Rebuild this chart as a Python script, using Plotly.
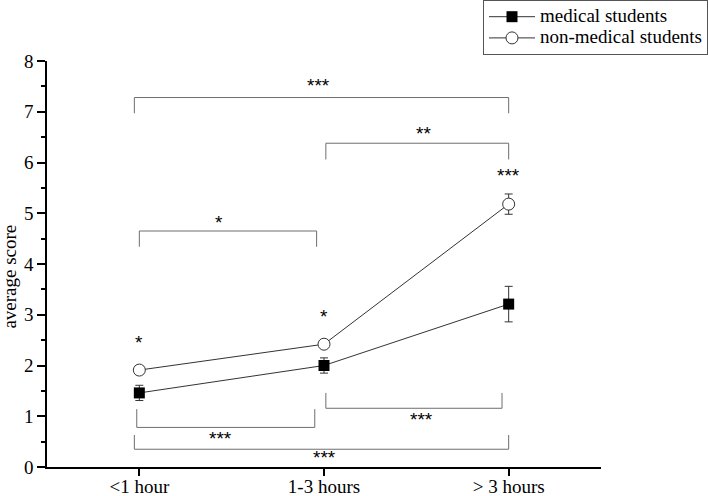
import plotly.graph_objects as go

categories = ["<1 hour", "1-3 hours", "> 3 hours"]
medical = [1.46, 2.0, 3.21]
medical_err = [0.15, 0.15, 0.35]
nonmedical = [1.91, 2.42, 5.18]
nonmedical_err = [0.08, 0.07, 0.2]
series_names = ["medical students", "non-medical students"]

# significance brackets: x0, x1, bar level, tick end, label, label x, label y
br_x0 = [-0.027, 1.01, 0.0, -0.014, 1.01, -0.027]
br_x1 = [2.0, 2.0, 0.96, 0.95, 1.964, 2.0]
br_y = [7.28, 6.38, 4.65, 0.78, 1.157, 0.35]
br_tick = [6.97, 6.06, 4.34, 1.14, 1.46, 0.63]
br_label = ["***", "**", "*", "***", "***", "***"]
br_lx = [0.97, 1.54, 0.43, 0.44, 1.53, 1.0]
br_ly = [7.57, 6.64, 4.88, 0.63, 1.0, 0.25]

# single stars above points
st_x = [0, 1, 2]
st_y = [2.52, 3.03, 5.80]
st_label = ["*", "*", "***"]

FONT = "Liberation Serif, Times New Roman, serif"
STAR_FONT = "Liberation Sans, Arial, sans-serif"
LINE = "#333333"
BR = "#6e6e6e"

xs = list(range(len(categories)))


def legend_text(s):
    return f'<span style="font-size:19px">{s}</span>'


fig = go.Figure()
fig.add_trace(go.Scatter(
    x=xs, y=medical, name=legend_text(series_names[0]), mode="lines+markers",
    line=dict(color=LINE, width=1),
    marker=dict(symbol="square", size=11, color="black"),
    error_y=dict(type="data", array=medical_err, color=LINE, thickness=1, width=4),
))
fig.add_trace(go.Scatter(
    x=xs, y=nonmedical, name=legend_text(series_names[1]), mode="lines+markers",
    line=dict(color=LINE, width=1),
    marker=dict(symbol="circle", size=12, color="white", line=dict(color=LINE, width=1)),
    error_y=dict(type="data", array=nonmedical_err, color=LINE, thickness=1, width=4),
))

shapes = []
annotations = []
for x0, x1, yb, yt, lab, lx, ly in zip(br_x0, br_x1, br_y, br_tick, br_label, br_lx, br_ly):
    path = f"M {x0},{yt} L {x0},{yb} L {x1},{yb} L {x1},{yt}"
    shapes.append(dict(type="path", path=path, xref="x", yref="y",
                       line=dict(color=BR, width=1)))
    annotations.append(dict(x=lx, y=ly, xref="x", yref="y", text=lab, showarrow=False,
                            font=dict(family=STAR_FONT, size=19, color="black"),
                            xanchor="center", yanchor="middle", yshift=-3))
for x, y, lab in zip(st_x, st_y, st_label):
    annotations.append(dict(x=x, y=y, xref="x", yref="y", text=lab, showarrow=False,
                            font=dict(family=STAR_FONT, size=19, color="black"),
                            xanchor="center", yanchor="middle", yshift=-3))

annotations.append(dict(x=-0.0675, y=0.468, xref="paper", yref="paper", text="average score",
                        textangle=-90, showarrow=False, xanchor="center", yanchor="middle",
                        font=dict(family=FONT, size=19, color="black")))

fig.update_layout(
    width=708, height=496,
    margin=dict(l=47, r=107, t=61, b=29, autoexpand=False),
    paper_bgcolor="white", plot_bgcolor="white",
    font=dict(family=FONT, size=19, color="black"),
    shapes=shapes, annotations=annotations,
    legend=dict(x=0.787, y=1.15, xanchor="left", yanchor="top",
                bordercolor="#555555", borderwidth=1, bgcolor="white",
                font=dict(family=FONT, size=14, color="black"),
                tracegroupgap=0, itemwidth=46),
    showlegend=True,
)
fig.update_xaxes(
    range=[-0.5, 2.5], tickmode="array", tickvals=xs, ticktext=categories,
    showgrid=False, zeroline=False, showline=True, linecolor="black", linewidth=1.5,
    ticks="outside", ticklen=7, tickwidth=1.5, tickcolor="black", ticklabelstandoff=-6,
    tickfont=dict(family=FONT, size=19, color="black"),
)
fig.update_yaxes(
    range=[0, 8], dtick=1, tick0=0,
    showgrid=False, zeroline=False, showline=True, linecolor="black", linewidth=1.5,
    ticks="outside", ticklen=8, tickwidth=1.5, tickcolor="black",
    minor=dict(dtick=0.5, ticks="outside", ticklen=4, tickwidth=1.5, tickcolor="black"),
    tickfont=dict(family=FONT, size=19, color="black"),
)

fig.write_html("out.html", config={"displayModeBar": False},
               post_script="document.body.style.margin='0';document.body.style.overflow='hidden';")
